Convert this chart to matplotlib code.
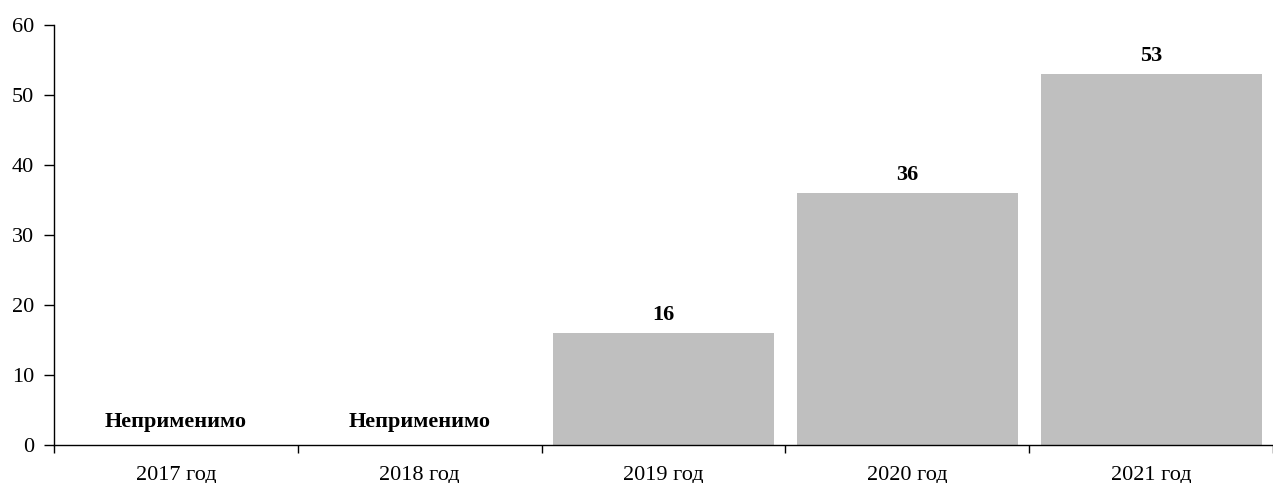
import numpy as np
import matplotlib
matplotlib.use('Agg')
import matplotlib.pyplot as plt

plt.rcParams['font.family'] = ['Liberation Serif', 'DejaVu Serif']

years = ['2017 год', '2018 год', '2019 год', '2020 год', '2021 год']
values = [None, None, 16, 36, 53]
na_label = 'Неприменимо'

fig = plt.figure(figsize=(12.73, 4.83), dpi=100)
W, H = 1273, 483
ax = fig.add_axes([54 / W, (H - 445) / H, (W - 54) / W, (445 - 25) / H])

x = np.arange(len(years))
bar_h = [v if v is not None else 0 for v in values]
ax.bar(x, bar_h, width=0.906, color='#BFBFBF', zorder=2)

for xi, v in zip(x, values):
    if v is None:
        ax.text(xi, 3.3, na_label, ha='center', va='center', fontsize=16, fontweight='bold')
    else:
        ax.annotate(str(v), (xi, v), xytext=(0, 13), textcoords='offset points',
                    ha='center', va='center', fontsize=16, fontweight='bold')

ax.set_ylim(0, 60)
ax.set_yticks(range(0, 61, 10))
ax.set_xlim(-0.5, -0.5 + (W - 54) / 245.5)
ax.set_xticks(np.arange(-0.5, 5, 1))
ax.set_xticklabels([])
ax.set_xticks(x, minor=True)
ax.set_xticklabels(years, minor=True)
ax.tick_params(axis='x', which='minor', length=0, pad=15, labelsize=16)
ax.tick_params(axis='x', which='major', length=6, width=1, direction='out')
ax.tick_params(axis='y', length=7, width=1, direction='out', labelsize=16, pad=7.5)

for s in ['top', 'right']:
    ax.spines[s].set_visible(False)
for s in ['left', 'bottom']:
    ax.spines[s].set_linewidth(1)

fig.savefig('out.png', dpi=100)
